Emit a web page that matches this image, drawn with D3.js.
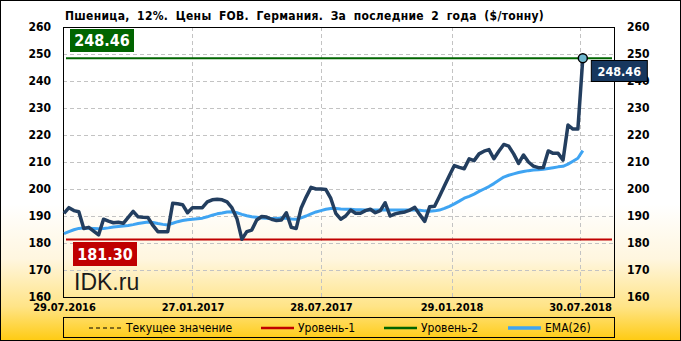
<!DOCTYPE html>
<html>
<head>
<meta charset="utf-8">
<script src="https://cdn.jsdelivr.net/npm/d3@7"></script>
<style>
  body { margin: 0; background: #fff; }
  svg { display: block; }
  text { font-family: "DejaVu Sans Condensed", "DejaVu Sans", sans-serif; font-stretch: condensed; }
</style>
</head>
<body>
<div id="chart"></div>
<script>
// weekly prices, $/t, first week starts 29.07.2016
const startDate = "29.07.2016";
const prices = [
  191.0, 193.1, 192.0, 191.6, 185.4, 185.8, 184.4, 183.0, 188.8, 188.1,
  187.5, 187.7, 187.3, 189.5, 191.7, 189.7, 189.5, 189.4, 186.5, 184.2,
  184.2, 184.2, 194.7, 194.5, 194.2, 191.2, 193.1, 193.1, 193.1, 195.2,
  196.0, 196.2, 196.0, 195.2, 193.0, 189.0, 181.4, 184.2, 184.8, 188.5,
  189.8, 189.6, 188.8, 188.3, 188.5, 191.2, 185.8, 185.4, 193.0, 197.0,
  200.6, 200.0, 200.0, 199.8, 196.5, 191.0, 188.8, 190.0, 192.2, 191.0,
  191.0, 192.0, 192.5, 191.2, 192.0, 194.9, 190.0, 190.8, 191.2, 191.5,
  192.2, 193.2, 190.5, 188.0, 193.4, 193.6, 197.3, 201.2, 205.0, 208.7,
  208.0, 207.5, 211.2, 210.5, 213.0, 214.0, 214.6, 211.2, 214.0, 216.5,
  215.9, 213.0, 209.5, 212.6, 210.0, 208.5, 207.9, 208.0, 214.1, 213.2,
  213.2, 210.7, 223.7, 222.2, 222.2, 248.46
];
// EMA(26)
const ema = [
  183.5, 184.2, 184.9, 185.4, 185.6, 185.5, 185.4, 185.3, 185.4, 185.6,
  185.9, 186.1, 186.3, 186.5, 186.8, 187.2, 187.5, 187.8, 187.6, 187.2,
  186.9, 186.7, 187.3, 187.9, 188.3, 188.6, 188.8, 189.0, 189.2, 189.7,
  190.3, 190.8, 191.1, 191.5, 191.6, 191.2, 190.6, 190.1, 189.7, 189.5,
  189.3, 189.2, 189.1, 189.1, 189.3, 189.2, 188.9, 188.8, 189.3, 190.0,
  190.8, 191.5, 192.0, 192.5, 192.8, 192.8, 192.6, 192.5, 192.5, 192.3,
  192.3, 192.2, 192.2, 192.2, 192.2, 192.3, 192.2, 192.2, 192.2, 192.2,
  192.2, 192.2, 192.1, 191.9, 191.8, 191.9, 192.2, 192.8, 193.6, 194.5,
  195.5, 196.6, 197.3, 198.1, 199.1, 200.0, 200.9, 202.0, 203.2, 204.4,
  205.1, 205.6, 206.1, 206.5, 206.8, 207.0, 207.1, 207.3, 207.6, 207.9,
  208.2, 208.4, 209.2, 210.3, 211.4, 214.2
];
const tickDates = ["29.07.2016", "27.01.2017", "28.07.2017", "29.01.2018", "30.07.2018"];
const yTicks = [160, 170, 180, 190, 200, 210, 220, 230, 240, 250, 260];
const level1 = 181.30;
const level2 = 248.46;
const legendNames = ["Текущее значение", "Уровень-1", "Уровень-2", "EMA(26)"];
const title = "Пшеница, 12%. Цены FOB. Германия. За последние 2 года ($/тонну)";

const width = 681, height = 341;
const plot = { left: 63, right: 614, top: 27, bottom: 297 };

const parse = d3.timeParse("%d.%m.%Y");
const t0 = parse(startDate);
const data = prices.map((v, i) => ({ date: d3.timeDay.offset(t0, 7 * i), price: v, ema: ema[i] }));

const svg = d3.select("#chart").append("svg")
  .attr("width", width)
  .attr("height", height);

// background: white fading to gold at the bottom
const grad = svg.append("defs").append("linearGradient")
  .attr("id", "bg").attr("x1", 0).attr("y1", 0).attr("x2", 0).attr("y2", 1);
grad.append("stop").attr("offset", "0.6").attr("stop-color", "#ffffff");
grad.append("stop").attr("offset", "0.76").attr("stop-color", "#fff6df");
grad.append("stop").attr("offset", "0.9").attr("stop-color", "#ffe487");
grad.append("stop").attr("offset", "1").attr("stop-color", "#ffcb12");

svg.append("rect")
  .attr("x", 0.5).attr("y", 0.5)
  .attr("width", width - 1).attr("height", height - 1)
  .attr("fill", "url(#bg)")
  .attr("stroke", "#000");

const x = d3.scaleTime()
  .domain([parse(tickDates[0]), parse(tickDates[tickDates.length - 1])])
  .range([64, 580]);
const y = d3.scaleLinear().domain([160, 260]).range([plot.bottom, plot.top]);

// grid
const grid = svg.append("g")
  .attr("stroke", "#c3c3c3")
  .attr("stroke-dasharray", "4,3");
grid.selectAll("line.h")
  .data(yTicks.slice(1, -1))
  .join("line")
  .attr("x1", plot.left).attr("x2", plot.right)
  .attr("y1", d => Math.round(y(d)) + 0.5).attr("y2", d => Math.round(y(d)) + 0.5);
grid.selectAll("line.v")
  .data(tickDates.slice(1))
  .join("line")
  .attr("x1", d => Math.round(x(parse(d))) + 0.5).attr("x2", d => Math.round(x(parse(d))) + 0.5)
  .attr("y1", plot.top).attr("y2", plot.bottom);

// plot frame
svg.append("rect")
  .attr("x", plot.left + 0.5).attr("y", plot.top + 0.5)
  .attr("width", plot.right - plot.left).attr("height", plot.bottom - plot.top)
  .attr("fill", "none")
  .attr("stroke", "#000");

// left and right axes
const axisLeft = svg.append("g")
  .attr("transform", `translate(${plot.left},0)`)
  .call(d3.axisLeft(y).tickValues(yTicks).tickSize(0).tickPadding(12));
const axisRight = svg.append("g")
  .attr("transform", `translate(${plot.right},0)`)
  .call(d3.axisRight(y).tickValues(yTicks).tickSize(0).tickPadding(13));
const axisBottom = svg.append("g")
  .attr("transform", `translate(0,${plot.bottom})`)
  .call(d3.axisBottom(x).tickValues(tickDates.map(parse)).tickFormat(d3.timeFormat("%d.%m.%Y")).tickSize(0).tickPadding(6));
[axisLeft, axisRight, axisBottom].forEach(a => {
  a.select(".domain").remove();
  a.selectAll("text")
    .attr("fill", "#000")
    .style("font-family", '"DejaVu Sans Condensed", "DejaVu Sans", sans-serif')
    .style("font-weight", "bold")
    .style("font-size", "12px");
});
axisBottom.selectAll("text").style("font-size", "11px");

// level lines
svg.append("line")
  .attr("x1", plot.left + 3).attr("x2", plot.right - 2)
  .attr("y1", y(level2)).attr("y2", y(level2))
  .attr("stroke", "#006400").attr("stroke-width", 2);
svg.append("line")
  .attr("x1", plot.left + 3).attr("x2", plot.right - 2)
  .attr("y1", y(level1)).attr("y2", y(level1))
  .attr("stroke", "#c00000").attr("stroke-width", 2);

// watermark
svg.append("text")
  .attr("x", 74).attr("y", 290)
  .style("font-family", '"Liberation Sans", Arial, sans-serif')
  .style("font-stretch", "normal")
  .style("font-size", "23px")
  .attr("fill", "#1a1a1a")
  .text("IDK.ru");

// EMA and price lines
svg.append("path")
  .datum(data)
  .attr("fill", "none")
  .attr("stroke", "#3fa4f2")
  .attr("stroke-width", 3)
  .attr("stroke-linejoin", "round")
  .attr("d", d3.line().x(d => x(d.date)).y(d => y(d.ema)));

svg.append("path")
  .datum(data)
  .attr("fill", "none")
  .attr("stroke", "#233e5f")
  .attr("stroke-width", 3.5)
  .attr("stroke-linejoin", "round")
  .attr("d", d3.line().x(d => x(d.date)).y(d => y(d.price)));

// last point marker
const last = data[data.length - 1];
svg.append("circle")
  .attr("cx", x(last.date)).attr("cy", y(last.price))
  .attr("r", 4.5)
  .attr("fill", "#6fb8cf")
  .attr("stroke", "#000")
  .attr("stroke-width", 1.5);

// value boxes
function valueBox(cx, cy, w, h, fill, txt, size, stroke) {
  svg.append("rect")
    .attr("x", cx).attr("y", cy).attr("width", w).attr("height", h)
    .attr("fill", fill)
    .attr("stroke", stroke || "none");
  svg.append("text")
    .attr("x", cx + w / 2).attr("y", cy + h / 2)
    .attr("text-anchor", "middle")
    .attr("dominant-baseline", "central")
    .attr("fill", "#fff")
    .style("font-weight", "bold")
    .style("font-size", size + "px")
    .text(txt);
}
valueBox(70, 29, 64, 23, "#006400", level2.toFixed(2), 16);
valueBox(73, 242, 64, 24, "#c00000", level1.toFixed(2), 16);
valueBox(x(last.date) + 8.5, 60.5, 56, 21, "#17375e", last.price.toFixed(2), 12.5, "#000");

// title
const tt = svg.append("text")
  .attr("x", 65).attr("y", 20)
  .style("font-weight", "bold")
  .style("font-size", "12px")
  .style("letter-spacing", "0.3px")
  .text(title);
const spaces = title.split(" ").length - 1;
const extra = (479 - tt.node().getComputedTextLength()) / spaces;
if (extra > 0) tt.style("word-spacing", extra + "px");

// legend
svg.append("rect")
  .attr("x", plot.left + 0.5).attr("y", 317.5)
  .attr("width", plot.right - plot.left).attr("height", 20)
  .attr("fill", "none")
  .attr("stroke", "#000");

const legendStyle = [
  { x: 89, color: "#000", dash: "4,3", w: 1 },
  { x: 261, color: "#c00000", dash: null, w: 2.5 },
  { x: 384, color: "#006400", dash: null, w: 2.5 },
  { x: 508, color: "#3fa4f2", dash: null, w: 3.5 }
];
const leg = svg.append("g").selectAll("g")
  .data(legendNames)
  .join("g")
  .attr("transform", (d, i) => `translate(${legendStyle[i].x},328)`);
leg.append("line")
  .attr("x1", 0).attr("x2", 33)
  .attr("stroke", (d, i) => legendStyle[i].color)
  .attr("stroke-width", (d, i) => legendStyle[i].w)
  .attr("stroke-dasharray", (d, i) => legendStyle[i].dash);
leg.append("text")
  .attr("x", 37).attr("y", 0)
  .attr("dominant-baseline", "central")
  .style("font-size", "12px")
  .attr("fill", "#000")
  .text(d => d);
</script>
</body>
</html>
